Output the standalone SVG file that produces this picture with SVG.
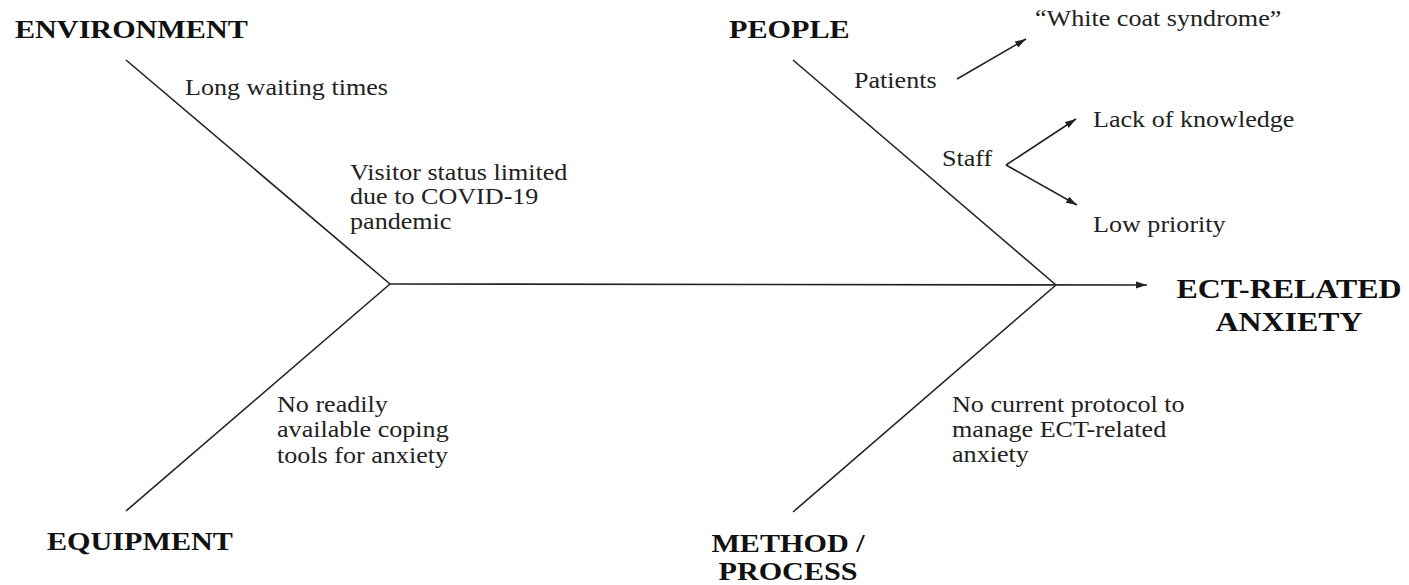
<svg xmlns="http://www.w3.org/2000/svg" width="1409" height="585" viewBox="0 0 1409 585">
<style>
.b{font-family:"Liberation Serif","Times New Roman",serif;font-weight:bold;font-size:26px;fill:#111}
.big{font-size:28px}
.r{font-family:"Liberation Serif","Times New Roman",serif;font-size:22.5px;fill:#222}
.ln{stroke:#222;stroke-width:1.6;fill:none}
</style>
<defs>
<marker id="ah" markerUnits="userSpaceOnUse" markerWidth="12" markerHeight="8" refX="11" refY="3.5" orient="auto">
<path d="M0,0 L11,3.5 L0,7 z" fill="#222"/>
</marker>
</defs>
<rect width="1409" height="585" fill="#fff"/>
<g id="connectors">
<line class="ln" x1="126" y1="60" x2="390" y2="284"/>
<line class="ln" x1="126" y1="511" x2="390" y2="284"/>
<line class="ln" x1="793" y1="60" x2="1056" y2="285"/>
<line class="ln" x1="793" y1="512" x2="1056" y2="285"/>
<line class="ln" x1="390" y1="284" x2="1147" y2="285" marker-end="url(#ah)"/>
<line class="ln" x1="957" y1="79" x2="1026" y2="39" marker-end="url(#ah)"/>
<line class="ln" x1="1006" y1="165" x2="1076" y2="119" marker-end="url(#ah)"/>
<line class="ln" x1="1006" y1="165" x2="1077" y2="205" marker-end="url(#ah)"/>
</g>
<g id="environment">
<text class="b" transform="translate(15 38) scale(1.16 1)">ENVIRONMENT</text>
<text class="r" transform="translate(185 95) scale(1.16 1)">Long waiting times</text>
<text class="r" transform="translate(350 180) scale(1.16 1)"><tspan x="0">Visitor status limited</tspan><tspan x="0" dy="24.5">due to COVID-19</tspan><tspan x="0" dy="24.5">pandemic</tspan></text>
</g>
<g id="equipment">
<text class="b" transform="translate(47 550) scale(1.16 1)">EQUIPMENT</text>
<text class="r" transform="translate(277 412) scale(1.16 1)"><tspan x="0">No readily</tspan><tspan x="0" dy="25.5">available coping</tspan><tspan x="0" dy="25.5">tools for anxiety</tspan></text>
</g>
<g id="people">
<text class="b" transform="translate(729 38) scale(1.16 1)">PEOPLE</text>
<text class="r" transform="translate(854 88) scale(1.16 1)">Patients</text>
<text class="r" transform="translate(1035 26) scale(1.16 1)">“White coat syndrome”</text>
<text class="r" transform="translate(942 166) scale(1.16 1)">Staff</text>
<text class="r" transform="translate(1093 127) scale(1.16 1)">Lack of knowledge</text>
<text class="r" transform="translate(1093 232) scale(1.16 1)">Low priority</text>
</g>
<g id="method">
<text class="b" text-anchor="middle" transform="translate(788 552) scale(1.16 1)"><tspan x="0">METHOD /</tspan><tspan x="0" dy="28">PROCESS</tspan></text>
<text class="r" transform="translate(952 412) scale(1.16 1)"><tspan x="0">No current protocol to</tspan><tspan x="0" dy="25">manage ECT-related</tspan><tspan x="0" dy="25">anxiety</tspan></text>
</g>
<g id="effect">
<text class="b big" text-anchor="middle" transform="translate(1289 298) scale(1.14 1)"><tspan x="0">ECT-RELATED</tspan><tspan x="0" dy="33">ANXIETY</tspan></text>
</g>
</svg>
